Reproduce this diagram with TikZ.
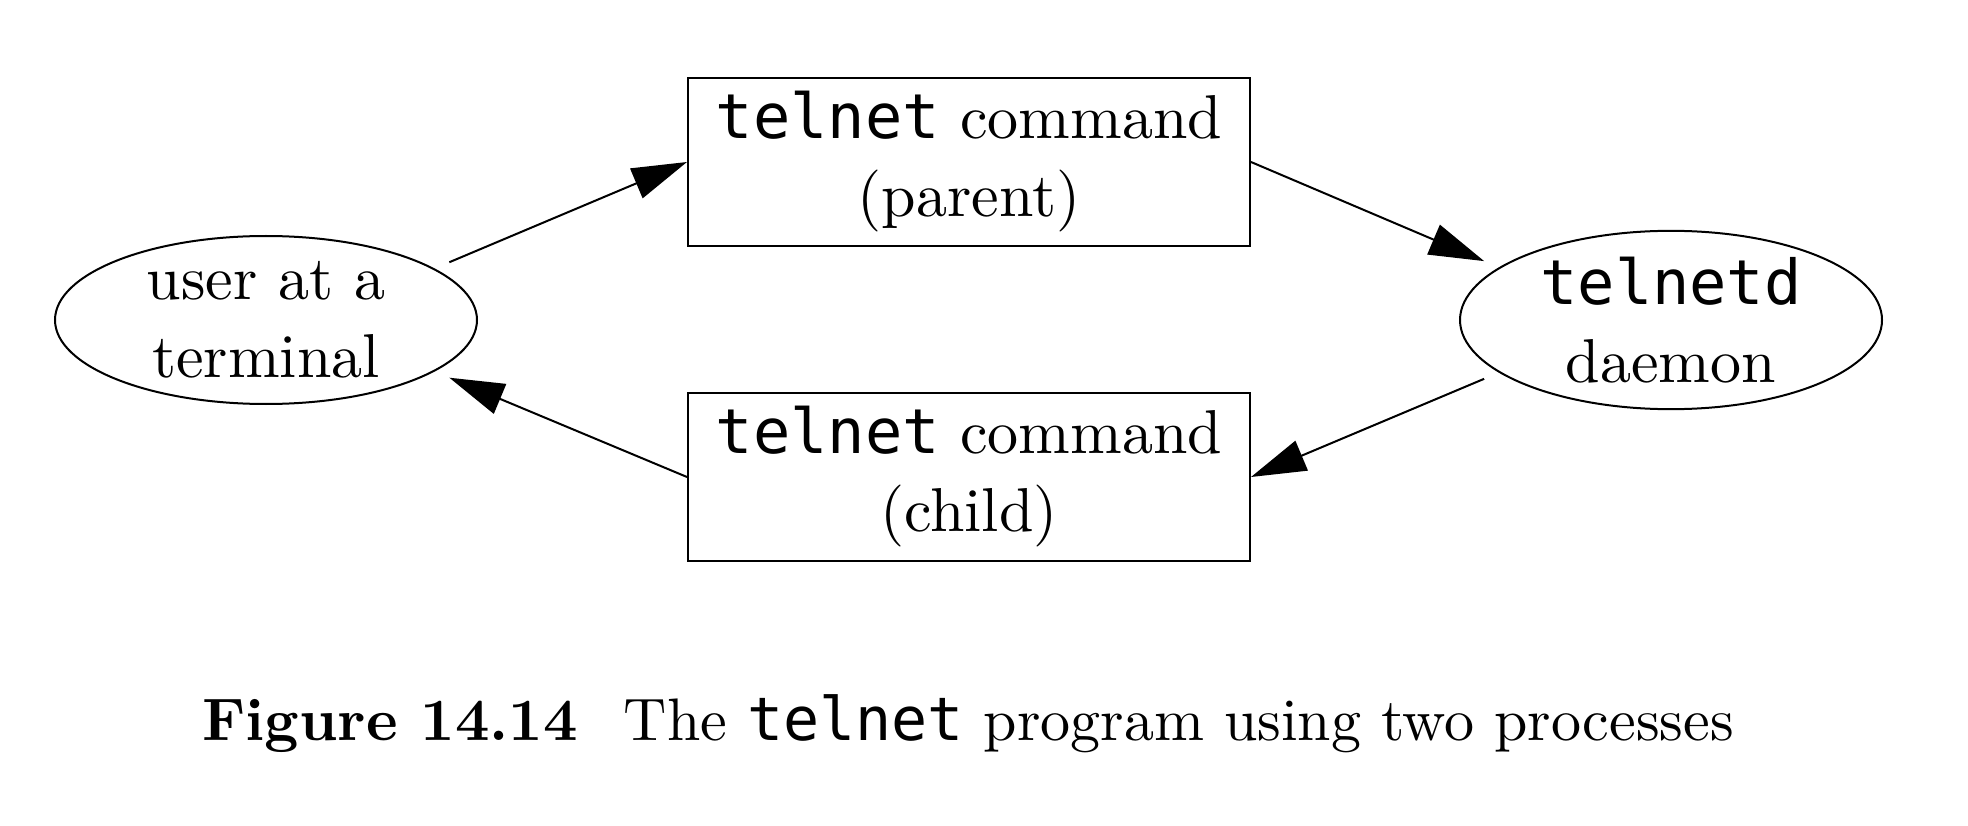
\documentclass[tikz,border=0pt]{standalone}
\usepackage{fontspec}
\setmainfont{lmroman10-regular}[Extension=.otf, BoldFont=lmroman10-bold]
\newfontfamily\monofont{DejaVu Sans Mono}
\usetikzlibrary{shapes.geometric,arrows.meta}
\begin{document}
\begin{tikzpicture}[x=1pt,y=-1pt,
  txt/.style={font=\fontsize{62}{78}\selectfont, align=center, inner sep=0pt},
  proc/.style={txt, ellipse, draw, line width=2pt, minimum width=422pt, minimum height=168pt},
  cmd/.style={txt, rectangle, draw, line width=2pt, minimum width=562pt, minimum height=168pt},
  conn/.style={line width=2pt, -{Triangle[length=55pt,width=32pt]}}]
\useasboundingbox (0,0) rectangle (1968,826);
\node[proc] (user) at (266,320) {user at a\\terminal};
\node[proc] (daemon) at (1671,320) {{\monofont telnetd}\\daemon};
\node[cmd] (parent) at (969,162) {{\monofont telnet} command\\(parent)};
\node[cmd] (child) at (969,477) {{\monofont telnet} command\\(child)};
\draw[conn, shorten <=16pt] (user.17) -- (parent.west);
\draw[conn, shorten >=16pt] (parent.east) -- (daemon.163);
\draw[conn, shorten <=16pt] (daemon.197) -- (child.east);
\draw[conn, shorten >=16pt] (child.west) -- (user.343);
\node[txt, anchor=base] (cap) at (968,740) {\fontsize{60}{78}\selectfont\textbf{Figure 14.14}\hspace{46pt}The {\monofont telnet} program using two processes};
\end{tikzpicture}
\end{document}
